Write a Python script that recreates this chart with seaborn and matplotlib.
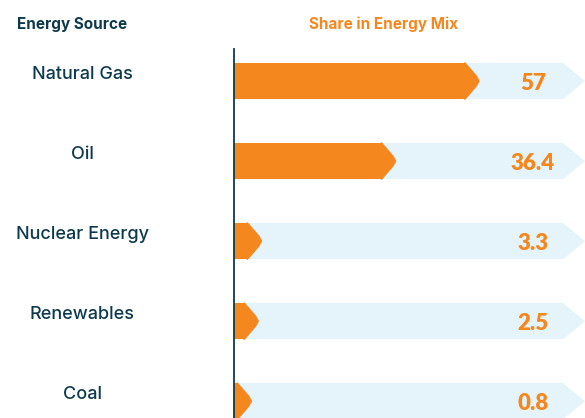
import numpy as np
import pandas as pd
import matplotlib.pyplot as plt
import matplotlib.transforms as mtransforms
from matplotlib.patches import Polygon
import seaborn as sns

# data
sources = ['Natural Gas', 'Oil', 'Nuclear Energy', 'Renewables', 'Coal']
shares = [57, 36.4, 3.3, 2.5, 0.8]
value_labels = ['57', '36.4', '3.3', '2.5', '0.8']

# colours
orange = '#F5871F'
track_blue = '#E4F4FA'
navy = '#0E3A4E'

sns.set_style('white')
plt.rcParams['font.family'] = ['Inter', 'DejaVu Sans']

df = pd.DataFrame({'source': sources, 'share': shares})

fig = plt.figure(figsize=(5.85, 4.18), dpi=100)
ax = fig.add_axes([234 / 585, 0, 351 / 585, (418 - 49) / 418])

px_per_unit = 4.05
xmax = 351 / px_per_unit
track_len = 329 / px_per_unit
df['track'] = track_len
bar_h = 0.45

# light blue track behind each bar
sns.barplot(data=df, x='track', y='source', color=track_blue, width=bar_h,
            saturation=1, ax=ax, orient='h')
n_track = len(ax.patches)
# orange value bars
sns.barplot(data=df, x='share', y='source', color=orange, width=bar_h,
            saturation=1, ax=ax, orient='h')

# turn bar ends into arrow tips
for i, p in enumerate(list(ax.patches)):
    y0 = p.get_y()
    h = p.get_height()
    w = p.get_width()
    yc = y0 + h / 2
    p.set_linewidth(0)
    if i < n_track:
        tip = 22 / px_per_unit
        pts = [(w, y0), (w + tip, yc), (w, y0 + h)]
        ax.add_patch(Polygon(pts, closed=True, facecolor=track_blue, lw=0, zorder=p.get_zorder()))
    else:
        tip = 14 / px_per_unit
        pts = [(w, y0), (w + tip * 0.8, y0 + h * 0.36), (w + tip, yc),
               (w + tip * 0.8, y0 + h * 0.64), (w, y0 + h)]
        ax.add_patch(Polygon(pts, closed=True, facecolor=orange, edgecolor=orange,
                             lw=1.2, joinstyle='round', zorder=p.get_zorder() + 0.1))

ax.set_xlim(0, xmax)
ax.set_ylim(4.21, -0.4)
ax.set_xticks([])
ax.set_yticks([])
ax.set_xlabel('')
ax.set_ylabel('')
for s in ['top', 'right', 'bottom']:
    ax.spines[s].set_visible(False)
ax.spines['left'].set_color(navy)
ax.spines['left'].set_linewidth(1.3)

# category names on the left
trans = mtransforms.blended_transform_factory(fig.transFigure, ax.transData)
for i, name in enumerate(sources):
    ax.text(82 / 585, i - 0.08, name, transform=trans, ha='center', va='center',
            fontsize=13, color=navy, fontweight='medium', clip_on=False)

# values near the end of each track
for i, lab in enumerate(value_labels):
    ax.text(533 / 585, i + 0.03, lab, transform=trans, ha='center', va='center',
            fontsize=16, color=orange, fontweight='heavy', clip_on=False,
            family=['Lato', 'DejaVu Sans'])

# column headers
fig.text(72 / 585, 1 - 24 / 418, 'Energy Source', ha='center', va='center',
         fontsize=11, color=navy, fontweight='bold')
fig.text(384 / 585, 1 - 24 / 418, 'Share in Energy Mix', ha='center', va='center',
         fontsize=11, color=orange, fontweight='bold')

plt.savefig('out.png', dpi=100)
